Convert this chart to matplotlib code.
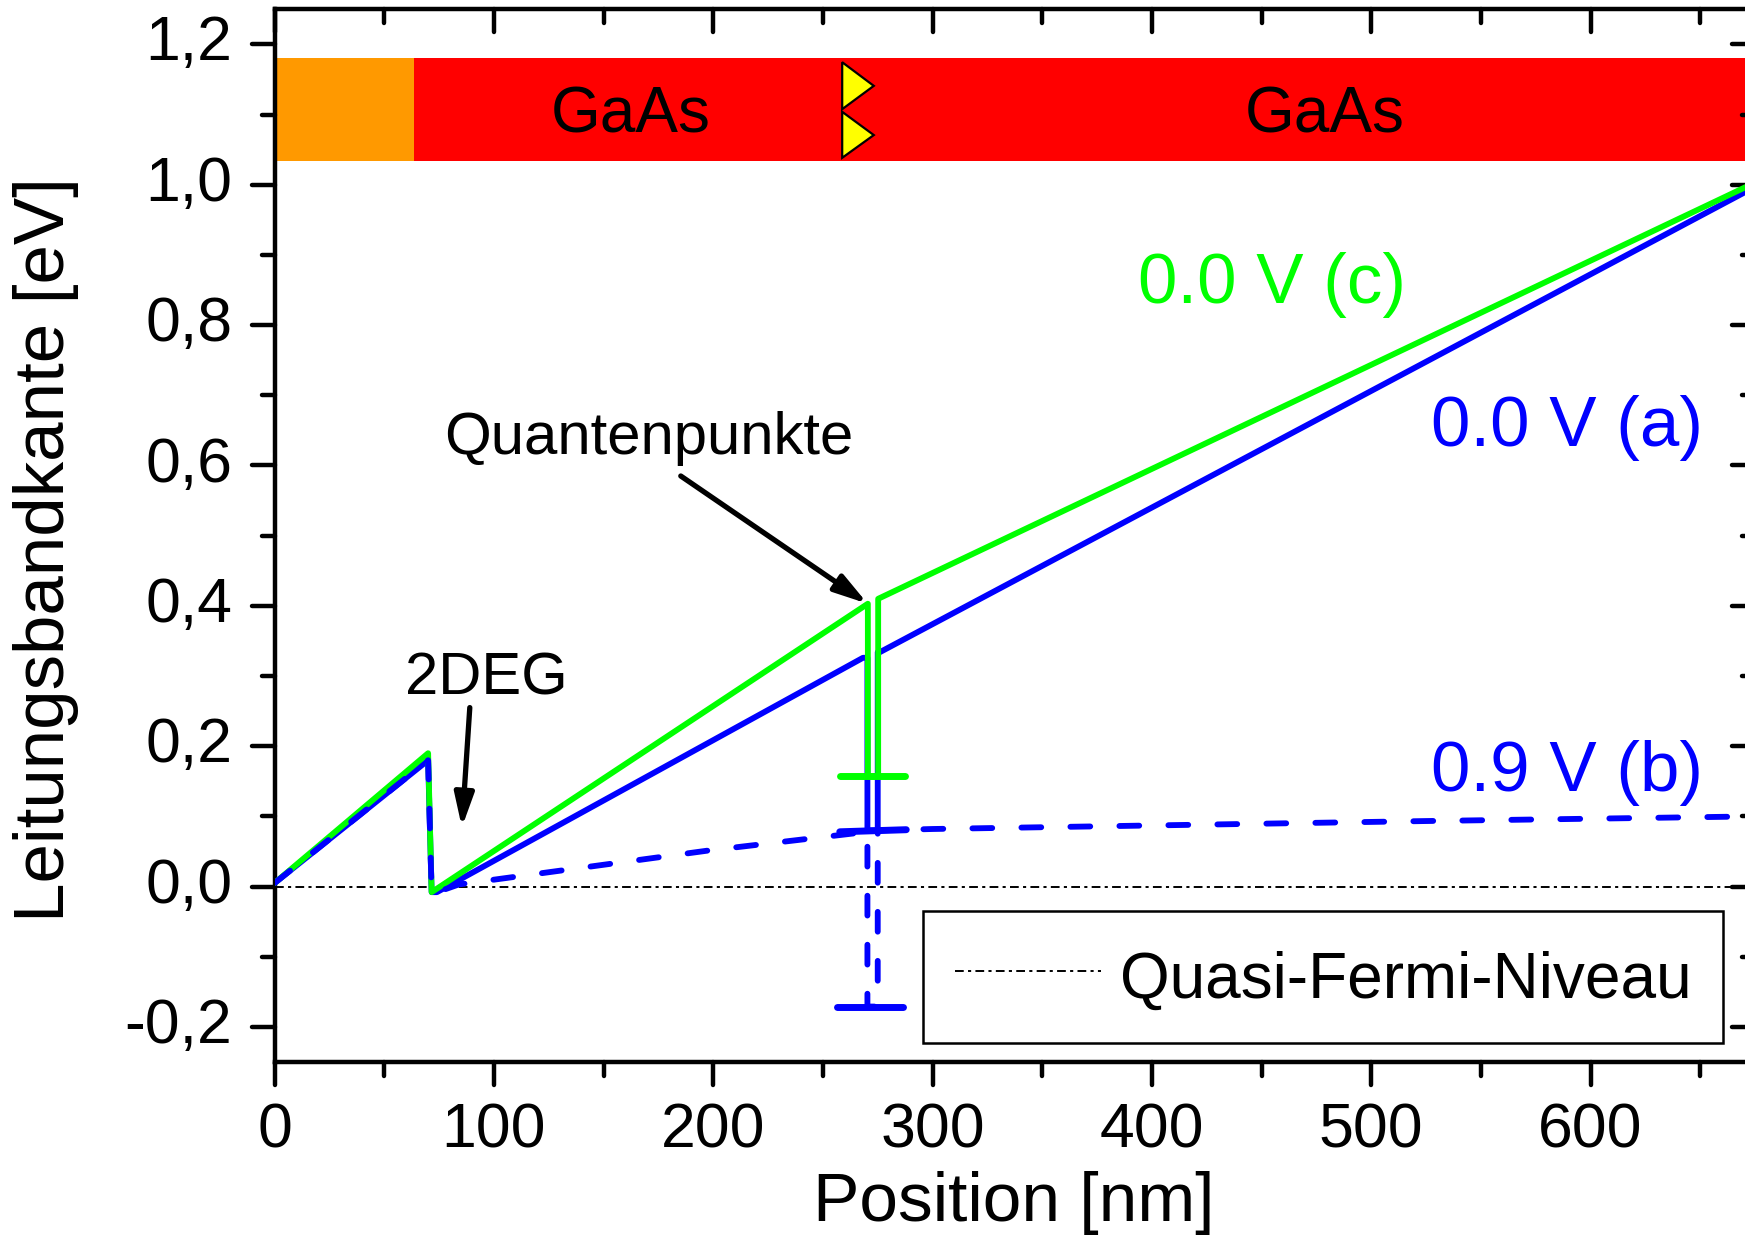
import matplotlib
matplotlib.use('Agg')
import matplotlib.pyplot as plt
from matplotlib.lines import Line2D
from matplotlib.markers import MarkerStyle
from matplotlib.patches import Polygon, Rectangle
from matplotlib.transforms import ScaledTranslation

plt.rcParams['font.family'] = ['Liberation Sans', 'DejaVu Sans']

# conduction band edge
green_x = [0, 70, 71.6, 270.5, 270.5, 275.2, 275.2, 675]
green_y = [0.005, 0.19, -0.008, 0.403, 0.157, 0.157, 0.41, 1.003]
blue_x = [0, 70, 71.6, 74, 268.3, 270.3, 270.3, 275, 275, 276, 675]
blue_y = [0.005, 0.18, -0.008, -0.008, 0.326, 0.326, 0.08, 0.08, 0.334, 0.334, 0.997]
dash_x = [0, 70, 71.6, 74, 84, 197, 270.3, 270.3, 275, 275, 300, 524, 675]
dash_y = [0.005, 0.18, -0.008, -0.008, 0.003, 0.051, 0.078, -0.171, -0.171, 0.08, 0.082, 0.0933, 0.1]

# confined levels in the dots
green_level_x = [257.7, 287.3]
green_level_y = [0.157, 0.157]
blue_level_x = [257.7, 288]
blue_level_y = [0.078, 0.081]
dash_level_x = [256.5, 286.5]
dash_level_y = [-0.171, -0.171]

fermi_x = [0, 675]
fermi_y = [0, 0]

# layer bar at the top
band_y = [1.034, 1.18]
orange_x = [0, 63.5]
red_x = [63.5, 675]
tri_upper_x = [258.8, 258.8, 273.2]
tri_upper_y = [1.1746, 1.1077, 1.1409]
tri_lower_x = [258.8, 258.8, 273.2]
tri_lower_y = [1.1039, 1.0384, 1.0708]

x_ticks = [0, 100, 200, 300, 400, 500, 600]
x_minor = [50, 150, 250, 350, 450, 550, 650]
y_ticks = [-0.2, 0.0, 0.2, 0.4, 0.6, 0.8, 1.0, 1.2]
y_labels = ['-0,2', '0,0', '0,2', '0,4', '0,6', '0,8', '1,0', '1,2']
y_minor = [-0.1, 0.1, 0.3, 0.5, 0.7, 0.9, 1.1]

W, H = 1745, 1237
fig = plt.figure(figsize=(W / 100, H / 100), dpi=100)
ax = fig.add_axes([274.6 / W, (H - 1062) / H, 1480.4 / W, 1052.7 / H])
ax.set_xlim(0, 675)
ax.set_ylim(-0.25, 1.25)

# bar
ax.add_patch(Rectangle((orange_x[0], band_y[0]), orange_x[1] - orange_x[0], band_y[1] - band_y[0],
                       fc='#ff9900', ec='none', zorder=1))
ax.add_patch(Rectangle((red_x[0], band_y[0]), red_x[1] - red_x[0], band_y[1] - band_y[0],
                       fc='#ff0000', ec='none', zorder=1))
for tx, ty in [(tri_upper_x, tri_upper_y), (tri_lower_x, tri_lower_y)]:
    ax.add_patch(Polygon(list(zip(tx, ty)), closed=True, fc='#ffff00', ec='black', lw=1.6, zorder=2))

# curves
ax.plot(fermi_x, fermi_y, color='black', lw=1.4, linestyle=(0, (4.5, 2.2, 1.6, 2.2)), zorder=2)
ax.plot(blue_x, blue_y, color='#0000ff', lw=4.2, solid_capstyle='round', solid_joinstyle='round', zorder=3)
ax.plot(blue_level_x, blue_level_y, color='#0000ff', lw=5, solid_capstyle='round', zorder=3)
ax.plot(green_x, green_y, color='#00ff00', lw=4.2, solid_capstyle='round', solid_joinstyle='round', zorder=4)
ax.plot(green_level_x, green_level_y, color='#00ff00', lw=5, solid_capstyle='round', zorder=4)
ax.plot(dash_x, dash_y, color='#0000ff', lw=4.2, linestyle=(0, (3.4, 5)), dash_capstyle='round', zorder=5)
ax.plot(dash_level_x, dash_level_y, color='#0000ff', lw=5, solid_capstyle='round', zorder=5)

# labels in the plot
ax.text(162.4, 1.099, 'GaAs', fontsize=46, ha='center', va='center', zorder=6)
ax.text(479, 1.099, 'GaAs', fontsize=46, ha='center', va='center', zorder=6)
ax.text(455, 0.857, '0.0 V (c)', fontsize=51, color='#00ff00', ha='center', va='center', zorder=6)
ax.text(589.5, 0.653, '0.0 V (a)', fontsize=51, color='#0000ff', ha='center', va='center', zorder=6)
ax.text(589.5, 0.162, '0.9 V (b)', fontsize=51, color='#0000ff', ha='center', va='center', zorder=6)

arrow = dict(arrowstyle='-|>,head_length=1.0,head_width=0.29', mutation_scale=20, color='black',
             lw=3.8, shrinkA=0, shrinkB=0)
ax.annotate('', xy=(270.4, 0.403), xytext=(185.2, 0.585), arrowprops=arrow, zorder=6)
ax.annotate('', xy=(85.4, 0.0843), xytext=(89, 0.255), arrowprops=arrow, zorder=6)
ax.text(170.6, 0.638, 'Quantenpunkte', fontsize=43.2, ha='center', va='center', zorder=6)
ax.text(96.7, 0.296, '2DEG', fontsize=43, ha='center', va='center', zorder=6)

# legend
handle = Line2D([], [], color='black', lw=1.4, linestyle=(0, (4.5, 2.2, 1.6, 2.2)))
leg = ax.legend([handle], ['Quasi-Fermi-Niveau'], loc='lower left',
                bbox_to_anchor=((923 - 274.6) / 1480.4, (1062 - 1043) / 1052.7),
                borderaxespad=0, fontsize=46, fancybox=False, framealpha=1, edgecolor='black',
                handlelength=2.285, handleheight=1.23, handletextpad=0.295, borderpad=0.5)
leg.get_frame().set_linewidth(1.8)
leg.set_zorder(7)

# ticks on all four sides, inward on top and right
ax.set_xticks(x_ticks)
ax.set_xticks(x_minor, minor=True)
ax.set_yticks(y_ticks, labels=y_labels)
ax.set_yticks(y_minor, minor=True)
for s in ax.spines.values():
    s.set_linewidth(3.2)
ax.tick_params(which='both', top=True, right=True, direction='out', width=3.2)
ax.tick_params(axis='x', which='major', length=16.5, labelsize=45, pad=12)
ax.tick_params(axis='x', which='minor', length=10)
ax.tick_params(axis='y', which='major', length=16.5, labelsize=45, pad=14)
ax.tick_params(axis='y', which='minor', length=9.5)
for axis in (ax.xaxis, ax.yaxis):
    for t in axis.get_major_ticks() + axis.get_minor_ticks():
        m = t.tick1line.get_marker()
        t.tick1line.set_marker(MarkerStyle(m, capstyle='round'))
        t.tick2line.set_marker(MarkerStyle(m, capstyle='round'))

# y tick labels sit a little above their ticks
for lab in ax.get_yticklabels():
    lab.set_transform(lab.get_transform() + ScaledTranslation(0, 5 / 72, fig.dpi_scale_trans))

ax.set_xlabel('Position [nm]', fontsize=50)
ax.set_ylabel('Leitungsbandkante [eV]', fontsize=51, va='center')
ax.xaxis.set_label_coords(0.4995, -0.104)
ax.yaxis.set_label_coords(-0.1547, 0.487)

fig.savefig('out.png', dpi=100)
